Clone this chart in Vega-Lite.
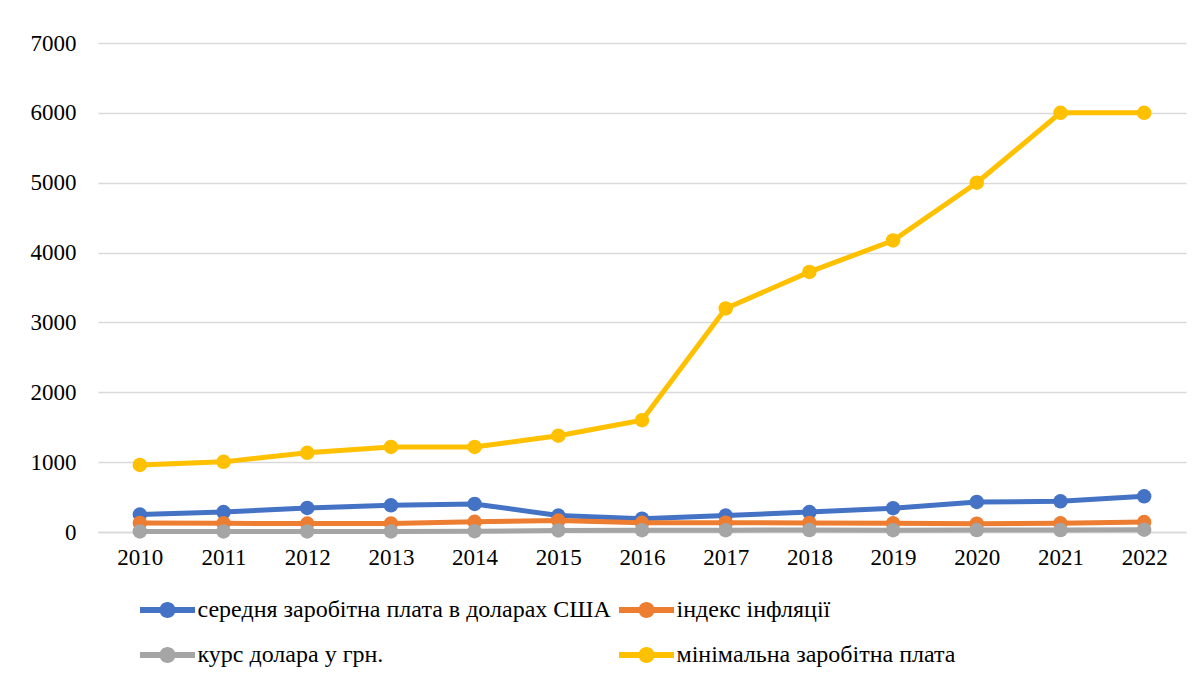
{
  "$schema": "https://vega.github.io/schema/vega-lite/v6.json",
  "width": 1088,
  "height": 489,
  "autosize": {"type": "none"},
  "padding": {"left": 98, "top": 43, "right": 14, "bottom": 145},
  "background": "white",
  "config": {
    "view": {"stroke": null},
    "font": "Liberation Serif"
  },
  "data": {
    "values": [
      {"year": "2010", "series": "середня заробітна плата в доларах США", "value": 249},
      {"year": "2011", "series": "середня заробітна плата в доларах США", "value": 286},
      {"year": "2012", "series": "середня заробітна плата в доларах США", "value": 344},
      {"year": "2013", "series": "середня заробітна плата в доларах США", "value": 382},
      {"year": "2014", "series": "середня заробітна плата в доларах США", "value": 402},
      {"year": "2015", "series": "середня заробітна плата в доларах США", "value": 235},
      {"year": "2016", "series": "середня заробітна плата в доларах США", "value": 190},
      {"year": "2017", "series": "середня заробітна плата в доларах США", "value": 235},
      {"year": "2018", "series": "середня заробітна плата в доларах США", "value": 285},
      {"year": "2019", "series": "середня заробітна плата в доларах США", "value": 340},
      {"year": "2020", "series": "середня заробітна плата в доларах США", "value": 430},
      {"year": "2021", "series": "середня заробітна плата в доларах США", "value": 439},
      {"year": "2022", "series": "середня заробітна плата в доларах США", "value": 511},
      {"year": "2010", "series": "індекс інфляції", "value": 129},
      {"year": "2011", "series": "індекс інфляції", "value": 125},
      {"year": "2012", "series": "індекс інфляції", "value": 120},
      {"year": "2013", "series": "індекс інфляції", "value": 120},
      {"year": "2014", "series": "індекс інфляції", "value": 145},
      {"year": "2015", "series": "індекс інфляції", "value": 163},
      {"year": "2016", "series": "індекс інфляції", "value": 132},
      {"year": "2017", "series": "індекс інфляції", "value": 134},
      {"year": "2018", "series": "індекс інфляції", "value": 130},
      {"year": "2019", "series": "індекс інфляції", "value": 124},
      {"year": "2020", "series": "індекс інфляції", "value": 119},
      {"year": "2021", "series": "індекс інфляції", "value": 125},
      {"year": "2022", "series": "індекс інфляції", "value": 143},
      {"year": "2010", "series": "курс долара у грн.", "value": 7.9},
      {"year": "2011", "series": "курс долара у грн.", "value": 8.0},
      {"year": "2012", "series": "курс долара у грн.", "value": 8.0},
      {"year": "2013", "series": "курс долара у грн.", "value": 8.0},
      {"year": "2014", "series": "курс долара у грн.", "value": 11.9},
      {"year": "2015", "series": "курс долара у грн.", "value": 21.8},
      {"year": "2016", "series": "курс долара у грн.", "value": 25.6},
      {"year": "2017", "series": "курс долара у грн.", "value": 26.6},
      {"year": "2018", "series": "курс долара у грн.", "value": 27.2},
      {"year": "2019", "series": "курс долара у грн.", "value": 25.8},
      {"year": "2020", "series": "курс долара у грн.", "value": 27.0},
      {"year": "2021", "series": "курс долара у грн.", "value": 27.3},
      {"year": "2022", "series": "курс долара у грн.", "value": 32.3},
      {"year": "2010", "series": "мінімальна заробітна плата", "value": 960},
      {"year": "2011", "series": "мінімальна заробітна плата", "value": 1004},
      {"year": "2012", "series": "мінімальна заробітна плата", "value": 1134},
      {"year": "2013", "series": "мінімальна заробітна плата", "value": 1218},
      {"year": "2014", "series": "мінімальна заробітна плата", "value": 1218},
      {"year": "2015", "series": "мінімальна заробітна плата", "value": 1378},
      {"year": "2016", "series": "мінімальна заробітна плата", "value": 1600},
      {"year": "2017", "series": "мінімальна заробітна плата", "value": 3200},
      {"year": "2018", "series": "мінімальна заробітна плата", "value": 3723},
      {"year": "2019", "series": "мінімальна заробітна плата", "value": 4173},
      {"year": "2020", "series": "мінімальна заробітна плата", "value": 5000},
      {"year": "2021", "series": "мінімальна заробітна плата", "value": 6000},
      {"year": "2022", "series": "мінімальна заробітна плата", "value": 6000}
    ]
  },
  "mark": {
    "type": "line",
    "strokeWidth": 5,
    "point": {"filled": true, "size": 210, "opacity": 1}
  },
  "encoding": {
    "x": {
      "field": "year",
      "type": "ordinal",
      "scale": {"type": "point", "padding": 0.5},
      "axis": {
        "title": null,
        "labelAngle": 0,
        "labelFontSize": 23,
        "labelColor": "#000000",
        "labelFont": "Liberation Serif",
        "labelPadding": 14,
        "ticks": false,
        "domainColor": "#d9d9d9",
        "domainWidth": 1.5,
        "grid": false
      }
    },
    "y": {
      "field": "value",
      "type": "quantitative",
      "scale": {"domain": [0, 7000], "nice": false},
      "axis": {
        "title": null,
        "values": [0, 1000, 2000, 3000, 4000, 5000, 6000, 7000],
        "format": "d",
        "labelFontSize": 23,
        "labelColor": "#000000",
        "labelFont": "Liberation Serif",
        "labelPadding": 22,
        "ticks": false,
        "domain": false,
        "grid": true,
        "gridColor": "#d9d9d9",
        "gridWidth": 1.5
      }
    },
    "color": {
      "field": "series",
      "type": "nominal",
      "sort": ["середня заробітна плата в доларах США", "індекс інфляції", "курс долара у грн.", "мінімальна заробітна плата"],
      "scale": {
        "domain": ["середня заробітна плата в доларах США", "індекс інфляції", "курс долара у грн.", "мінімальна заробітна плата"],
        "range": ["#4472C4", "#ED7D31", "#A5A5A5", "#FFC000"]
      },
      "legend": {
        "title": null,
        "orient": "none",
        "legendX": 49.5,
        "legendY": 547,
        "direction": "horizontal",
        "columns": 2,
        "padding": 0,
        "columnPadding": 7,
        "rowPadding": 13,
        "symbolType": "M-1.375,-0.15H1.375V0.15H-1.375Z M-0.4,0A0.4,0.4 0 1,1 0.4,0A0.4,0.4 0 1,1 -0.4,0Z",
        "symbolSize": 1600,
        "symbolStrokeWidth": 0,
        "labelFontSize": 24,
        "labelFont": "Liberation Serif",
        "labelColor": "#000000",
        "labelOffset": 10,
        "labelLimit": 600,
        "encode": {
          "symbols": {
            "update": {
              "fill": {"scale": "color", "field": "value"},
              "stroke": {"value": "transparent"},
              "opacity": {"value": 1}
            }
          }
        }
      }
    }
  }
}
